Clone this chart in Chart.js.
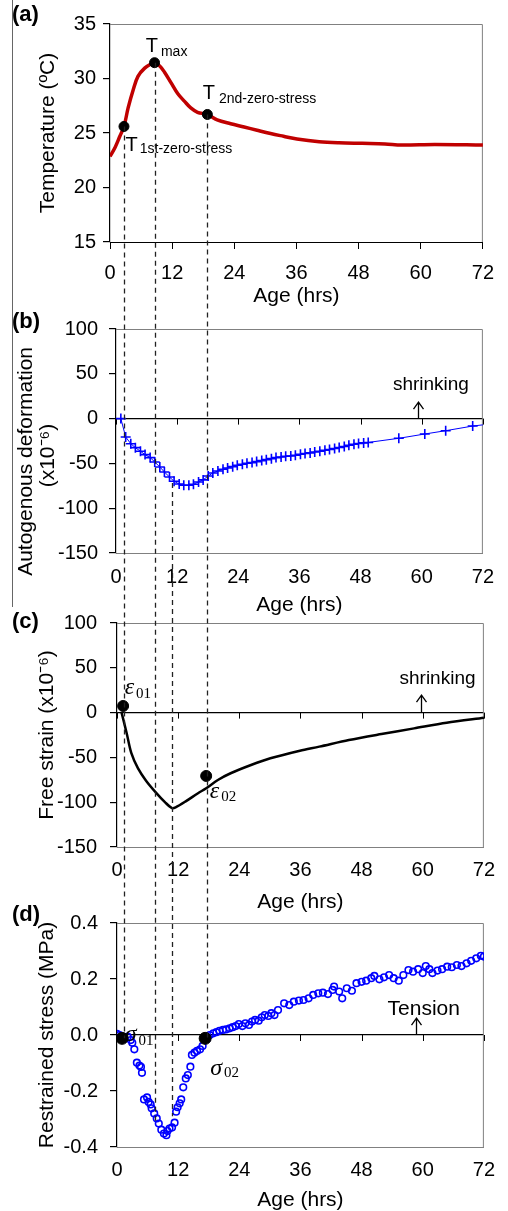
<!DOCTYPE html>
<html>
<head>
<meta charset="utf-8">
<script src="https://cdn.jsdelivr.net/npm/chart.js@4.4.1/dist/chart.umd.min.js"></script>
<style>
  html, body { margin: 0; padding: 0; background: #fff; }
  #fig { position: relative; width: 508px; height: 1211px; overflow: hidden; font-family: 'Liberation Sans', Arial, sans-serif; }
  #fig canvas { position: absolute; left: 0; }
  .tag { position: absolute; left: 12px; font-weight: bold; font-size: 22px; line-height: 22px; color: #000; }
  #edge { position: absolute; left: 12px; top: 0; width: 0; height: 607px; border-left: 1px solid #666; }
</style>
</head>
<body>
<div id="fig">
  <div id="edge"></div>
  <canvas id="tempChart" width="508" height="320" style="top:0px"></canvas>
  <canvas id="autoChart" width="508" height="320" style="top:305px"></canvas>
  <canvas id="freeChart" width="508" height="320" style="top:600px"></canvas>
  <canvas id="stressChart" width="508" height="316" style="top:895px"></canvas>
  <canvas id="guides" width="508" height="1211" style="top:0px"></canvas>
  <div class="tag" style="top:3px">(a)</div>
  <div class="tag" style="top:310px">(b)</div>
  <div class="tag" style="top:610px">(c)</div>
  <div class="tag" style="top:903px">(d)</div>
</div>
<script>
// (a) temperature
const tempAge = [0, 1.0, 1.9, 2.7, 3.5, 4.5, 5.4, 6.7, 8.0, 8.6, 9.6, 10.5, 11.8, 13.1, 14.4, 15.6, 16.9, 18.8, 20.7, 23.3, 25.9, 28.4, 31.0, 33.5, 36.1, 40.4, 44.2, 48.7, 53.1, 56.3, 62.7, 72];
const tempVal = [22.85, 23.7, 24.7, 25.6, 27.3, 29.0, 30.2, 30.95, 31.35, 31.45, 31.15, 30.6, 29.6, 28.6, 27.9, 27.3, 26.9, 26.7, 26.2, 25.85, 25.55, 25.25, 24.95, 24.7, 24.45, 24.2, 24.1, 24.05, 24.0, 23.9, 23.95, 23.9];
const tempMarkAge = [2.7, 8.6, 18.8];
const tempMarkVal = [25.6, 31.45, 26.7];

// (b) autogenous deformation (x10^-6)
const autoAge = [0.95, 1.9, 2.9, 3.8, 4.8, 5.7, 6.7, 7.6, 8.6, 9.5, 10.5, 11.4, 12.4, 13.3, 14.3, 15.2, 16.2, 17.1, 18.1, 19, 20, 21, 21.9, 22.9, 23.8, 24.8, 25.7, 26.7, 27.6, 28.6, 29.5, 30.5, 31.4, 32.4, 33.3, 34.3, 35.2, 36.2, 37.1, 38.1, 39, 40, 41, 41.9, 42.9, 43.8, 44.8, 45.7, 46.7, 47.6, 48.6, 49.5, 55.5, 60.6, 64.7, 70, 72];
const autoVal = [0, -20.5, -28, -32.4, -36.5, -40.2, -43.5, -48.4, -54, -59.6, -65.2, -70, -73, -74.4, -74.4, -73.3, -70.7, -68.4, -64, -60.7, -58.4, -56.6, -55.1, -53.6, -52.1, -51, -49.9, -49.1, -48, -46.9, -45.8, -44.7, -43.5, -42.9, -42.1, -41.7, -40.9, -39.8, -39, -38.3, -37.2, -36.4, -35.3, -34.5, -33.4, -32.3, -31.2, -29.7, -28.6, -27.8, -27.1, -26.6, -22, -17.2, -13.5, -8.3, -7];

// (c) free strain (x10^-6)
const freeAge = [0.9, 1.9, 2.8, 4.1, 5.7, 7.6, 9.5, 10.8, 11.5, 13.4, 15.9, 17.5, 19.8, 22.3, 26.3, 30.1, 35.9, 39.7, 45.5, 51.9, 58.3, 64.7, 72];
const freeVal = [0, -23, -45, -62, -76, -89, -100.5, -106.5, -105.7, -99.4, -90, -84.5, -75.2, -67.7, -58.5, -51, -42.5, -38, -30.6, -23.9, -17.6, -11.3, -5.7];
const freeMarkAge = [1.2, 17.5];
const freeMarkVal = [7.4, -70.7];

// (d) restrained stress (MPa)
const stressAge = [0, 0.5, 2.1, 2.7, 3.0, 3.4, 3.9, 4.4, 4.7, 4.9, 5.3, 5.9, 6.2, 6.6, 6.8, 7.3, 7.8, 8.2, 8.7, 9.2, 9.7, 9.9, 10.3, 10.8, 11.3, 11.6, 11.9, 12.3, 12.6, 13.0, 13.5, 13.9, 14.4, 14.7, 15.2, 15.7, 16.3, 16.8, 17.6, 18.2, 18.9, 19.5, 20.1, 20.8, 21.4, 22.1, 22.7, 23.3, 23.9, 24.6, 25.2, 25.9, 26.5, 27.1, 27.8, 28.4, 29.0, 29.7, 30.3, 30.9, 31.6, 32.8, 33.8, 34.7, 35.7, 36.6, 37.6, 38.5, 39.5, 40.4, 41.4, 42.3, 42.6, 43.6, 44.2, 45.1, 46.1, 47.0, 48.0, 48.9, 49.9, 50.5, 51.5, 52.4, 53.4, 54.3, 55.3, 56.2, 57.2, 58.1, 59.1, 60.0, 60.6, 61.3, 61.9, 62.9, 63.8, 64.8, 65.7, 66.7, 67.6, 68.6, 69.5, 70.5, 71.4, 72];
const stressVal = [0.004, 0, -0.006, -0.018, -0.028, -0.051, -0.099, -0.109, -0.114, -0.135, -0.23, -0.223, -0.239, -0.248, -0.262, -0.28, -0.298, -0.316, -0.338, -0.352, -0.358, -0.343, -0.334, -0.33, -0.313, -0.274, -0.258, -0.244, -0.23, -0.187, -0.155, -0.143, -0.113, -0.071, -0.063, -0.057, -0.051, -0.039, -0.015, 0, 0.006, 0.01, 0.015, 0.018, 0.02, 0.024, 0.028, 0.032, 0.039, 0.032, 0.042, 0.036, 0.048, 0.054, 0.051, 0.063, 0.071, 0.068, 0.078, 0.071, 0.089, 0.113, 0.107, 0.119, 0.123, 0.125, 0.131, 0.143, 0.149, 0.151, 0.146, 0.161, 0.173, 0.155, 0.131, 0.167, 0.158, 0.185, 0.19, 0.194, 0.203, 0.211, 0.199, 0.206, 0.214, 0.203, 0.194, 0.214, 0.232, 0.226, 0.235, 0.221, 0.246, 0.235, 0.221, 0.23, 0.235, 0.244, 0.242, 0.25, 0.246, 0.256, 0.265, 0.274, 0.283, 0.28];
const stressMarkAge = [1.0, 17.3];
const stressMarkVal = [-0.012, -0.012];

// dashed guides: age on the (a) axis, start value in a panel, end value in (d)
const guideAge = [2.7, 8.6, 12, 18.8];
const guideFrom = ['a', 'a', 'b', 'a'];
const guideFromVal = [25.6, 31.45, -72, 26.7];
const guideToVal = [-0.012, -0.32, -0.29, -0.012];

const xTicks = [0, 12, 24, 36, 48, 60, 72];

const SANS = "'Liberation Sans', Arial, sans-serif";
const SERIF = "'Liberation Serif', 'Times New Roman', serif";
const NB = '\u00a0';

const pts = (xs, ys) => xs.map((x, i) => ({ x, y: ys[i] }));

const frame = {
  id: 'frame',
  beforeDatasetsDraw(chart, args, opts) {
    const { ctx, chartArea: a, scales } = chart;
    ctx.save();
    ctx.strokeStyle = '#808080';
    ctx.lineWidth = 1;
    ctx.beginPath();
    ctx.moveTo(a.left, a.top + 0.5);
    ctx.lineTo(a.right - 0.5, a.top + 0.5);
    ctx.lineTo(a.right - 0.5, a.bottom);
    ctx.stroke();
    if (opts.zeroTicks) {
      const y0 = scales.y.getPixelForValue(0);
      ctx.strokeStyle = '#000';
      ctx.beginPath();
      xTicks.forEach(t => {
        const x = Math.round(scales.x.getPixelForValue(t)) + 0.5;
        ctx.moveTo(x, y0);
        ctx.lineTo(x, y0 + 6);
      });
      ctx.stroke();
    }
    ctx.restore();
  }
};

const notes = {
  id: 'notes',
  afterDatasetsDraw(chart, args, opts) {
    const { ctx, scales: { x, y } } = chart;
    ctx.save();
    ctx.fillStyle = '#000';
    ctx.textBaseline = 'middle';
    ctx.textAlign = 'left';
    (opts.labels || []).forEach(l => {
      let px = x.getPixelForValue(l.x);
      const py = y.getPixelForValue(l.y);
      ctx.font = l.font;
      const w = ctx.measureText(l.text).width;
      if (l.center) px -= w / 2;
      ctx.fillText(l.text, px, py);
      if (l.sub) {
        ctx.font = l.subFont;
        ctx.fillText(l.sub, px + w + (l.gap || 2), py + l.drop);
      }
    });
    ctx.strokeStyle = '#000';
    ctx.lineWidth = 1.3;
    (opts.arrows || []).forEach(a => {
      const px = Math.round(x.getPixelForValue(a.x)) + 0.5;
      const y0 = y.getPixelForValue(a.from);
      const y1 = y.getPixelForValue(a.to);
      ctx.beginPath();
      ctx.moveTo(px, y0);
      ctx.lineTo(px, y1);
      ctx.moveTo(px - 5, y1 + 7);
      ctx.lineTo(px, y1);
      ctx.lineTo(px + 5, y1 + 7);
      ctx.stroke();
    });
    ctx.restore();
  }
};

function makeAxes(o) {
  return {
    x: {
      type: 'linear', min: 0, max: 72,
      afterFit: s => { s.height = o.xh; },
      afterBuildTicks: s => { s.ticks = xTicks.map(v => ({ value: v })); },
      ticks: { color: '#000', font: { family: SANS, size: 20, lineHeight: 1 }, padding: o.xpad, maxRotation: 0, autoSkip: false },
      grid: { display: o.xTickMarks, drawOnChartArea: false, drawTicks: o.xTickMarks, tickLength: 7, color: '#000' },
      border: { color: o.xBorder, width: 1 },
      title: { display: true, text: 'Age (hrs)', color: '#000', font: { family: SANS, size: 21, lineHeight: 1 }, padding: { top: 0, bottom: o.tpad } }
    },
    y: {
      type: 'linear', min: o.ymin, max: o.ymax,
      afterFit: s => { s.width = o.yw; },
      ticks: { stepSize: o.step, color: '#000', font: { family: SANS, size: 20, lineHeight: 1 }, padding: o.ypad, callback: o.fmt || (v => v) },
      grid: {
        drawOnChartArea: o.zero,
        color: c => (o.zero && c.tick && Math.abs(c.tick.value) < 1e-9) ? '#000' : 'rgba(0,0,0,0)',
        tickColor: '#000', tickLength: 7, lineWidth: 1.2
      },
      border: { color: '#000', width: 1.2 },
      title: { display: true, text: o.ytitle, color: '#000', font: { family: SANS, size: 21, lineHeight: o.ylh || 1 }, padding: { top: o.ytp, bottom: 0 } }
    }
  };
}

function baseOptions(layoutPad, axes, noteOpts, zeroTicks) {
  return {
    responsive: false,
    animation: false,
    events: [],
    layout: { padding: layoutPad },
    scales: axes,
    plugins: { legend: { display: false }, tooltip: { enabled: false }, frame: { zeroTicks }, notes: noteOpts }
  };
}

const tFont = '20px ' + SANS;
const tSub = '14px ' + SANS;
const gFont = 'italic 24px ' + SERIF;
const gSub = '15px ' + SERIF;

const tempChart = new Chart(document.getElementById('tempChart'), {
  type: 'line',
  data: {
    datasets: [
      { data: pts(tempMarkAge, tempMarkVal), showLine: false, pointRadius: 5, pointBackgroundColor: '#000', pointBorderColor: '#000' },
      { data: pts(tempAge, tempVal), borderColor: '#c00000', borderWidth: 3.5, pointRadius: 0, tension: 0.35 }
    ]
  },
  options: baseOptions({ top: 24, right: 22, left: 0, bottom: 0 },
    makeAxes({ xh: 78, xpad: 14, xTickMarks: true, xBorder: '#000', tpad: 13, ymin: 15, ymax: 35, step: 5, yw: 110, ypad: 7, zero: false, ytitle: 'Temperature (ºC)', ytp: 38 }),
    { labels: [
      { x: 6.9, y: 32.9, text: 'T', font: tFont, sub: 'max', subFont: tSub, drop: 5, gap: 3 },
      { x: 3.0, y: 23.9, text: 'T', font: tFont, sub: '1st-zero-stress', subFont: tSub, drop: 4, gap: 2 },
      { x: 17.9, y: 28.6, text: 'T', font: tFont, sub: '2nd-zero-stress', subFont: tSub, drop: 5, gap: 4 }
    ] }, false),
  plugins: [frame, notes]
});

const autoChart = new Chart(document.getElementById('autoChart'), {
  type: 'line',
  data: {
    datasets: [
      { data: pts(autoAge, autoVal), borderColor: '#0000ff', borderWidth: 1, pointStyle: 'cross', pointBorderWidth: 1.6,
        pointRadius: c => (c.dataIndex === autoAge.length - 1 ? 0 : 5), pointBorderColor: '#0000ff' }
    ]
  },
  options: baseOptions({ top: 24, right: 13, left: 0, bottom: 0 },
    makeAxes({ xh: 72, xpad: 14, xTickMarks: false, xBorder: '#808080', tpad: 9, ymin: -150, ymax: 100, step: 50, yw: 116, ypad: 11, zero: true,
      ytitle: ['Autogenous deformation' + NB.repeat(7), '(x10⁻⁶)' + NB.repeat(5)], ylh: 22 / 21, ytp: 15 }),
    { labels: [{ x: 61.8, y: 38, text: 'shrinking', font: '19px ' + SANS, center: true }],
      arrows: [{ x: 59.3, from: 0, to: 18.5 }] }, true),
  plugins: [frame, notes]
});

const freeChart = new Chart(document.getElementById('freeChart'), {
  type: 'line',
  data: {
    datasets: [
      { data: pts(freeMarkAge, freeMarkVal), showLine: false, pointRadius: 5.5, pointBackgroundColor: '#000', pointBorderColor: '#000' },
      { data: pts(freeAge, freeVal), borderColor: '#000', borderWidth: 2.5, pointRadius: 0, tension: 0.3 }
    ]
  },
  options: baseOptions({ top: 23, right: 16, left: 0, bottom: 0 },
    makeAxes({ xh: 73, xpad: 13, xTickMarks: false, xBorder: '#808080', tpad: 7, ymin: -150, ymax: 100, step: 50, yw: 117, ypad: 13, zero: true, ytitle: 'Free strain (x10⁻⁶)', ytp: 37 }),
    { labels: [
      { x: 62.9, y: 37.5, text: 'shrinking', font: '19px ' + SANS, center: true },
      { x: 1.5, y: 27.5, text: 'ε', font: gFont, sub: '01', subFont: gSub, drop: 6, gap: 0 },
      { x: 18.2, y: -88.3, text: 'ε', font: gFont, sub: '02', subFont: gSub, drop: 5, gap: 0 }
    ], arrows: [{ x: 59.7, from: 0, to: 19.6 }] }, true),
  plugins: [frame, notes]
});

const stressChart = new Chart(document.getElementById('stressChart'), {
  type: 'line',
  data: {
    datasets: [
      { data: pts(stressMarkAge, stressMarkVal), showLine: false, pointRadius: 6, pointBackgroundColor: '#000', pointBorderColor: '#000' },
      { data: pts(stressAge, stressVal), showLine: false, pointRadius: 3.3, pointBorderWidth: 1.6, pointBorderColor: '#0000ff', pointBackgroundColor: 'rgba(0,0,0,0)' }
    ]
  },
  options: baseOptions({ top: 28, right: 13, left: 0, bottom: 0 },
    makeAxes({ xh: 64, xpad: 13, xTickMarks: false, xBorder: '#808080', tpad: 0, ymin: -0.4, ymax: 0.4, step: 0.2, yw: 117, ypad: 12, zero: true, ytitle: 'Restrained stress (MPa)', ytp: 37, fmt: v => v.toFixed(1) }),
    { labels: [
      { x: 60.2, y: 0.093, text: 'Tension', font: '21px ' + SANS, center: true },
      { x: 1.5, y: 0.0, text: 'σ', font: gFont, sub: '01', subFont: gSub, drop: 6, gap: 0 },
      { x: 18.3, y: -0.122, text: 'σ', font: gFont, sub: '02', subFont: gSub, drop: 4, gap: 0 }
    ], arrows: [{ x: 58.7, from: 0, to: 0.06 }] }, true),
  plugins: [frame, notes]
});

// dashed guide lines running down through all panels
const panels = { a: tempChart, b: autoChart, c: freeChart, d: stressChart };
const g = document.getElementById('guides').getContext('2d');
g.setLineDash([5, 4]);
g.strokeStyle = '#222';
g.lineWidth = 1.3;
guideAge.forEach((age, i) => {
  const px = Math.round(tempChart.scales.x.getPixelForValue(age)) + 0.5;
  const from = panels[guideFrom[i]];
  const y0 = from.canvas.offsetTop + from.scales.y.getPixelForValue(guideFromVal[i]);
  const y1 = stressChart.canvas.offsetTop + stressChart.scales.y.getPixelForValue(guideToVal[i]);
  g.beginPath();
  g.moveTo(px, y0);
  g.lineTo(px, y1);
  g.stroke();
});
</script>
</body>
</html>
